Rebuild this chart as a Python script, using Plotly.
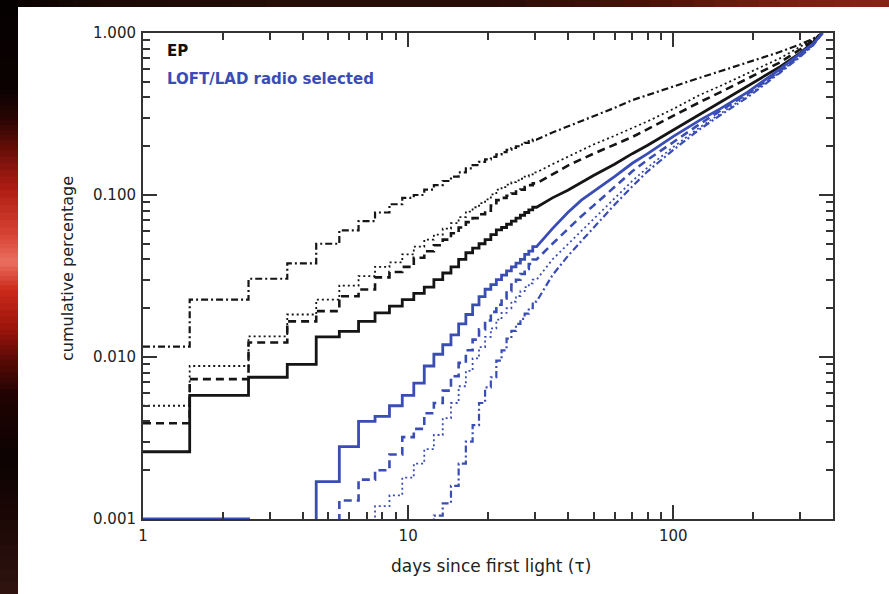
import plotly.graph_objects as go

# ---------------- data ----------------
# black = EP, blue = LOFT/LAD radio selected ; four line styles each
bs_days = [1,2,3,4,5,6,7,8,9,10,11,12,13,14,15,16,17,18,19,20,21,22,23,24,25,26,27,28,29,30,
           35,40,50,60,70,80,100,126,150,190,226,253,300,337,365]
bs_vals = [0.0026,0.0058,0.0075,0.009,0.0133,0.0144,0.0166,0.0187,0.0206,0.0226,0.0247,0.027,0.030,0.033,0.036,
           0.040,0.044,0.047,0.050,0.053,0.057,0.061,0.063,0.066,0.069,0.072,0.075,0.078,0.081,0.084,
           0.096,0.107,0.132,0.155,0.18,0.203,0.252,0.315,0.37,0.47,0.55,0.62,0.75,0.88,1.0]

bd_days = [1,2,3,4,5,6,7,8,9,10,11,12,13,14,15,16,17,18,19,20,21,22,23,24,25,26,27,28,29,30,
           35,40,50,60,70,80,100,126,150,190,226,253,300,337,365]
bd_vals = [0.0039,0.0073,0.0123,0.0166,0.0192,0.0237,0.0261,0.031,0.0335,0.036,0.041,0.045,0.049,0.053,0.058,
           0.063,0.068,0.072,0.076,0.080,0.086,0.093,0.096,0.099,0.102,0.105,0.108,0.112,0.115,0.118,
           0.134,0.152,0.18,0.205,0.228,0.255,0.31,0.375,0.43,0.52,0.60,0.66,0.79,0.90,1.0]

bdot_days = [1,2,3,4,5,6,7,8,9,10,11,12,13,14,15,16,17,18,19,20,21,22,23,24,25,26,27,28,29,30,
             35,40,50,60,70,80,100,126,150,190,226,253,300,337,365]
bdot_vals = [0.005,0.0088,0.0134,0.0183,0.0226,0.0276,0.0316,0.036,0.0384,0.043,0.048,0.053,0.057,0.062,0.067,
             0.073,0.079,0.084,0.089,0.094,0.101,0.108,0.112,0.116,0.12,0.123,0.126,0.13,0.134,0.138,
             0.155,0.172,0.205,0.232,0.258,0.285,0.34,0.415,0.47,0.565,0.64,0.70,0.82,0.92,1.0]

bdd_days = [1,2,3,4,5,6,7,8,9,10,11,12,13,14,15,16,17,18,19,20,21,22,23,24,25,26,27,28,29,30,
            35,40,50,60,70,80,100,126,150,190,250,300,337,365]
bdd_vals = [0.0116,0.0226,0.0304,0.0378,0.050,0.0605,0.069,0.078,0.0877,0.096,0.10,0.108,0.115,0.122,0.13,
            0.138,0.146,0.153,0.16,0.166,0.172,0.178,0.184,0.19,0.195,0.2,0.205,0.21,0.215,0.22,
            0.243,0.265,0.305,0.345,0.385,0.415,0.47,0.53,0.58,0.66,0.76,0.85,0.92,1.0]

# blue (0 = no event yet)
ls_days = [1,2,3,4,5,6,7,8,9,10,11,12,13,14,15,16,17,18,19,20,21,22,23,24,25,26,27,28,29,30,
           35,40,45,50,60,70,80,100,126,150,190,253,300,337,365]
ls_vals = [0.001,0.001,0,0,0.0017,0.0028,0.004,0.0043,0.005,0.0058,0.0069,0.0088,0.0104,0.0119,0.0137,
           0.016,0.0183,0.021,0.0236,0.0262,0.028,0.030,0.032,0.034,0.036,0.038,0.040,0.043,0.045,0.048,
           0.062,0.078,0.093,0.105,0.13,0.157,0.18,0.23,0.29,0.34,0.43,0.60,0.74,0.86,1.0]

ld_days = [5,6,7,8,9,10,11,12,13,14,15,16,17,18,19,20,21,22,23,24,25,26,27,28,29,30,
           35,40,45,50,60,70,80,100,126,150,190,253,300,337,365]
ld_vals = [0,0.0013,0.00175,0.002,0.0025,0.0032,0.0036,0.0045,0.0052,0.0062,0.0076,0.0092,0.011,0.0128,0.0148,
           0.0168,0.019,0.021,0.023,0.0255,0.028,0.030,0.0325,0.035,0.0375,0.040,
           0.050,0.062,0.074,0.086,0.112,0.14,0.165,0.213,0.275,0.33,0.42,0.585,0.725,0.85,1.0]

ldot_days = [7,8,9,10,11,12,13,14,15,16,17,18,19,20,21,22,23,24,25,26,27,28,29,30,
             35,40,45,50,60,70,80,100,126,150,190,253,300,337,365]
ldot_vals = [0,0.0012,0.0014,0.0018,0.0022,0.0027,0.0033,0.0042,0.0052,0.0066,0.0082,0.0098,0.0115,0.0133,
             0.015,0.017,0.0187,0.020,0.022,0.0238,0.0255,0.027,0.0285,0.030,
             0.040,0.050,0.060,0.071,0.095,0.122,0.148,0.198,0.262,0.318,0.41,0.575,0.715,0.845,1.0]

ldd_days = [12,13,14,15,16,17,18,19,20,21,22,23,24,25,26,27,28,29,30,
            35,40,45,50,60,70,80,100,126,150,190,253,300,337,365]
ldd_vals = [0,0.00105,0.00125,0.0016,0.0022,0.003,0.0038,0.0052,0.0065,0.0075,0.0095,0.011,0.013,0.0145,
            0.016,0.0172,0.0185,0.020,0.022,
            0.032,0.042,0.052,0.063,0.087,0.113,0.14,0.19,0.255,0.31,0.40,0.57,0.71,0.84,1.0]

x_tickvals = [1, 10, 100]
x_ticktext = ["1", "10", "100"]
y_tickvals = [0.001, 0.01, 0.1, 1.0]
y_ticktext = ["0.001", "0.010", "0.100", "1.000"]

X_MIN, X_MAX = 1, 400
Y_LOG_MIN, Y_LOG_MAX = -3, 0
STEP_END = 30

BLACK = "#151515"
BLUE = "#3a4db4"


def step_xy(days, vals):
    xs, ys = [], []
    floor = 10 ** (Y_LOG_MIN - 1)
    for d, v in zip(days, vals):
        v = v if v > 0 else floor
        if d <= STEP_END:
            xs += [max(d - 0.5, X_MIN), d + 0.5]
            ys += [v, v]
        else:
            xs.append(d)
            ys.append(v)
    return xs, ys


fig = go.Figure()
series = [
    (bs_days, bs_vals, BLACK, "solid", 2.8),
    (bd_days, bd_vals, BLACK, "8px,5px", 2.6),
    (bdot_days, bdot_vals, BLACK, "2px,3px", 1.8),
    (bdd_days, bdd_vals, BLACK, "7px,3px,2px,3px", 2.2),
    (ld_days, ld_vals, BLUE, "8px,5px", 2.6),
    (ldot_days, ldot_vals, BLUE, "2px,3px", 1.8),
    (ldd_days, ldd_vals, BLUE, "7px,3px,2px,3px", 2.2),
    (ls_days, ls_vals, BLUE, "solid", 2.8),
]
for d, v, c, dash, w in series:
    xs, ys = step_xy(d, v)
    fig.add_trace(go.Scatter(x=xs, y=ys, mode="lines", line=dict(color=c, width=w, dash=dash),
                             showlegend=False, hoverinfo="skip"))

# ---------- background decoration (dark/red frame on left and top) ----------
L, T, W_PX, H_PX = 143, 33, 690, 486
def px_x(p):
    return (p - L) / W_PX
def px_y(p):
    return (T + H_PX - p) / H_PX


def mix(ca, cb, t):
    out = []
    for i in (1, 3, 5):
        out.append(int(int(ca[i:i + 2], 16) * (1 - t) + int(cb[i:i + 2], 16) * t))
    return "rgb({},{},{})".format(*out)


left_stops = [(0, "#060101"), (90, "#0c0202"), (120, "#2a0604"), (150, "#6a0e08"), (190, "#b01e14"),
              (235, "#d84434"), (262, "#ea7060"), (290, "#cc2a1a"), (330, "#9a140c"), (360, "#5a0a06"),
              (395, "#200403"), (460, "#0c0302"), (520, "#1c0806"), (594, "#301410")]
shapes = []
for (a, ca), (b, cb) in zip(left_stops[:-1], left_stops[1:]):
    n = 6
    for k in range(n):
        y0 = a + (b - a) * k / n
        y1 = a + (b - a) * (k + 1) / n + 1.5
        shapes.append(dict(type="rect", xref="paper", yref="paper", x0=px_x(0), x1=px_x(18),
                           y0=px_y(min(y1, 594)), y1=px_y(y0), line=dict(width=0),
                           fillcolor=mix(ca, cb, (k + 0.5) / n), layer="below"))
top_stops = [(18, "#0a0302"), (100, "#1a0a06"), (300, "#261008"), (500, "#2a0e08"), (650, "#4a1208"),
             (780, "#7a1e10"), (889, "#8a2414")]
for (a, ca), (b, cb) in zip(top_stops[:-1], top_stops[1:]):
    n = 6
    for k in range(n):
        x0 = a + (b - a) * k / n
        x1 = a + (b - a) * (k + 1) / n + 1.5
        shapes.append(dict(type="rect", xref="paper", yref="paper", x0=px_x(x0),
                           x1=px_x(min(x1, 889)), y0=px_y(7), y1=px_y(0), line=dict(width=0),
                           fillcolor=mix(ca, cb, (k + 0.5) / n), layer="below"))

FONT = "DejaVu Sans"
axis_common = dict(showline=True, linecolor="#333333", linewidth=2, mirror="ticks",
                   ticks="inside", ticklen=14, tickwidth=2, tickcolor="#333333",
                   showgrid=False, zeroline=False,
                   tickfont=dict(family=FONT, size=15, color="#222222"))

fig.update_layout(
    width=889, height=594,
    margin=dict(l=L, r=889 - L - W_PX, t=T, b=594 - T - H_PX),
    paper_bgcolor="white", plot_bgcolor="white",
    shapes=shapes,
    xaxis=dict(type="log", range=[0, 2.60206], tickvals=x_tickvals, ticktext=x_ticktext,
               ticklabelstandoff=2,
               minor=dict(ticks="inside", ticklen=7, tickwidth=1.5, tickcolor="#333333",
                          tickvals=[2, 3, 4, 5, 6, 7, 8, 9, 20, 30, 40, 50, 60, 70, 80, 90, 200, 300, 400]),
               **axis_common),
    yaxis=dict(type="log", range=[Y_LOG_MIN, Y_LOG_MAX], tickvals=y_tickvals, ticktext=y_ticktext,
               ticklabelstandoff=2,
               minor=dict(ticks="inside", ticklen=7, tickwidth=1.5, tickcolor="#333333",
                          tickvals=[0.002, 0.003, 0.004, 0.005, 0.006, 0.007, 0.008, 0.009,
                                    0.02, 0.03, 0.04, 0.05, 0.06, 0.07, 0.08, 0.09,
                                    0.2, 0.3, 0.4, 0.5, 0.6, 0.7, 0.8, 0.9]),
               **axis_common),
    annotations=[
        dict(text="days since first light (τ)", xref="paper", yref="paper", x=px_x(491), y=px_y(566),
             showarrow=False, font=dict(family=FONT, size=17, color="#222222"), xanchor="center", yanchor="middle"),
        dict(text="cumulative percentage", xref="paper", yref="paper", x=px_x(67), y=px_y(269), textangle=-90,
             showarrow=False, font=dict(family=FONT, size=16, color="#222222"), xanchor="center", yanchor="middle"),
        dict(text="<b>EP</b>", xref="paper", yref="paper", x=px_x(165), y=px_y(51),
             showarrow=False, font=dict(family=FONT, size=15, color="#111111"), xanchor="left", yanchor="middle"),
        dict(text="<b>LOFT/LAD radio selected</b>", xref="paper", yref="paper", x=px_x(165), y=px_y(79),
             showarrow=False, font=dict(family=FONT, size=15, color=BLUE), xanchor="left", yanchor="middle"),
    ],
)

fig.write_html("out.html")
